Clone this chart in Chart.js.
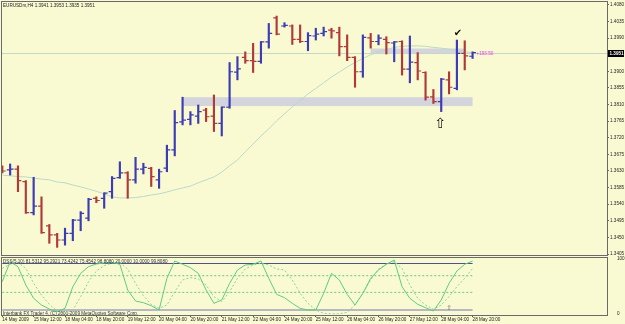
<!DOCTYPE html>
<html><head><meta charset="utf-8"><title>EURUSDm H4</title>
<script src="https://cdn.jsdelivr.net/npm/chart.js@4.4.1/dist/chart.umd.min.js"></script>
<style>
html,body{margin:0;padding:0;background:#FAFAD2;overflow:hidden}
#wrap{position:relative;width:625px;height:324px;background:#FAFAD2}
canvas{position:absolute;left:0}
#c1{top:0}
#c2{top:250px}
</style></head><body>
<div id="wrap"><canvas id="c1" width="625" height="258"></canvas><canvas id="c2" width="625" height="74"></canvas></div>
<script>
// ---------- data ----------
const symbolName = "EURUSDm,H4";
const xLabels = ["14 May 2009","15 May 12:00","18 May 04:00","18 May 20:00","19 May 12:00","20 May 04:00","20 May 20:00","21 May 12:00","22 May 04:00","24 May 20:00","25 May 12:00","26 May 04:00","26 May 20:00","27 May 12:00","28 May 04:00","28 May 20:00"];
const xLabelEvery = 4;
const opens  = [1.3635,1.3633,1.3635,1.3601,1.3517,1.3535,1.3481,1.3457,1.3443,1.3461,1.3497,1.3502,1.3556,1.3556,1.3574,1.3612,1.3625,1.3606,1.3635,1.3637,1.3606,1.3638,1.3687,1.3763,1.3770,1.3779,1.3795,1.3779,1.3759,1.3803,1.3898,1.3938,1.3929,1.3927,1.3980,1.4045,1.4023,1.4023,1.3987,1.3981,1.3996,1.4003,1.4012,1.4005,1.3967,1.3938,1.3899,1.3991,1.3981,1.3987,1.3977,1.3981,1.3906,1.3924,1.3897,1.3831,1.3818,1.3877,1.3854,1.3949,1.3941];
const highs  = [1.3644,1.3649,1.3644,1.3604,1.3613,1.3560,1.3485,1.3461,1.3475,1.3499,1.3520,1.3556,1.3560,1.3571,1.3615,1.3655,1.3628,1.3667,1.3651,1.3640,1.3635,1.3700,1.3794,1.3830,1.3791,1.3809,1.3800,1.3836,1.3804,1.3924,1.3940,1.3953,1.3976,1.3981,1.4030,1.4050,1.4032,1.4026,1.4026,1.4005,1.4017,1.4020,1.4017,1.4020,1.3999,1.3940,1.3999,1.4003,1.3999,1.3994,1.3981,1.3983,1.3996,1.3951,1.3899,1.3851,1.3881,1.3899,1.3985,1.3983,1.3953];
const lows   = [1.3625,1.3619,1.3574,1.3515,1.3511,1.3461,1.3434,1.3423,1.3429,1.3441,1.3468,1.3495,1.3544,1.3529,1.3556,1.3610,1.3556,1.3597,1.3622,1.3588,1.3583,1.3628,1.3671,1.3755,1.3755,1.3759,1.3764,1.3737,1.3725,1.3800,1.3877,1.3922,1.3897,1.3922,1.3963,1.3999,1.4020,1.3973,1.3978,1.3956,1.3985,1.3996,1.3990,1.3942,1.3929,1.3857,1.3884,1.3963,1.3972,1.3947,1.3926,1.3890,1.3869,1.3877,1.3822,1.3813,1.3791,1.3839,1.3850,1.3904,1.3935];
const closes = [1.3630,1.3635,1.3604,1.3517,1.3535,1.3463,1.3457,1.3443,1.3461,1.3497,1.3515,1.3553,1.3550,1.3570,1.3610,1.3625,1.3606,1.3635,1.3640,1.3615,1.3628,1.3687,1.3761,1.3768,1.3782,1.3791,1.3777,1.3759,1.3803,1.3899,1.3907,1.3929,1.3927,1.3980,1.4003,1.4001,1.4025,1.3987,1.3981,1.3997,1.4001,1.4008,1.4010,1.3967,1.3938,1.3899,1.3992,1.3981,1.3990,1.3978,1.3980,1.3906,1.3925,1.3901,1.3830,1.3818,1.3879,1.3857,1.3949,1.3942,1.3951];
const maValues = [1.3619,1.3617,1.3615,1.3614,1.3611,1.3608,1.3606,1.3600,1.3598,1.3592,1.3587,1.3581,1.3575,1.3568,1.3560,1.3557,1.3557,1.3558,1.3561,1.3565,1.3568,1.3573,1.3579,1.3584,1.3589,1.3598,1.3606,1.3614,1.3627,1.3644,1.3660,1.3682,1.3703,1.3725,1.3744,1.3766,1.3785,1.3804,1.3821,1.3839,1.3854,1.3869,1.3885,1.3898,1.3912,1.3924,1.3935,1.3945,1.3953,1.3959,1.3965,1.3968,1.3969,1.3969,1.3968,1.3965,1.3963,1.3960,1.3957,1.3953,1.3951];
const priceTicks = [1.4080,1.4035,1.3990,1.3945,1.3900,1.3855,1.3810,1.3765,1.3720,1.3675,1.3630,1.3585,1.3540,1.3495,1.3450,1.3405];
const zoneLowPrices = [1.3806, 1.3830];
const zoneLowBars = [23, 60];
const zoneHighPrices = [1.3947, 1.3962];
const zoneHighBars = [47, 59];
const profitText = "+193.50";
const dssMain   = [58.3,94.3,85.3,52.2,28.2,16.2,9.0,4.2,10.2,49.2,73.3,85.3,90.1,91.9,93.1,89.5,43.2,23.4,20.4,15.0,7.2,64.3,95.5,89.5,83.5,73.3,43.2,19.2,25.2,55.2,79.3,88.3,89.5,95.5,64.3,35.4,29.4,19.2,10.2,7.2,7.2,37.2,73.3,61.3,35.4,16.2,37.2,64.3,79.3,89.5,97.3,49.2,28.2,17.4,11.4,5.4,25.2,55.2,77.5,89.5,95.5];
const dssSignal = [82.3,89.5,93.1,82.3,55.2,34.2,17.4,5.4,1.2,7.2,31.2,58.3,77.5,87.1,91.9,93.1,81.1,55.2,33.0,17.4,10.2,16.2,40.2,61.3,65.5,63.1,52.2,31.2,22.2,40.2,64.3,81.1,88.3,91.3,88.3,81.1,79.3,61.3,37.2,19.2,7.2,1.2,0.5,0.5,3.0,16.2,37.2,61.3,81.1,90.1,94.3,82.3,52.2,28.2,16.2,8.4,16.2,31.2,49.2,64.3,82.3];
const dssLevels = [91, 69, 39, 7];
const dssTicks = [100, 0];
const dssTitle = "DSS(5,10) 81.5312 95.2921 73.4242 75.4542 98.8080 20.0000 10.0000 99.8080";
const copyright = "Interbank FX Trader 4, (C) 2001-2009 MetaQuotes Software Corp.";

// ---------- style ----------
const FONT = '"Liberation Sans", Arial, sans-serif';
const FS = 4.6;
const UP = '#3c3cb4', DOWN = '#b03a3a';
const FRAME = '#6a6a6a';
const X_MIN = -0.038, X_MAX = 77.15;
const Y_MIN = 1.34023, Y_MAX = 1.40881;
const last = closes.length - 1;

function text(ctx, s, x, y, color, size, align, family, weight) {
  ctx.save();
  ctx.font = (weight || 'normal') + ' ' + size + 'px ' + (family || FONT);
  ctx.fillStyle = color; ctx.textAlign = align || 'left'; ctx.textBaseline = 'middle';
  ctx.fillText(s, x, y);
  ctx.restore();
}
function frame(chart) {
  const {ctx, chartArea: a} = chart;
  ctx.save(); ctx.strokeStyle = FRAME; ctx.lineWidth = 1;
  ctx.strokeRect(a.left - 0.5, a.top - 0.5, a.right - a.left + 1, a.bottom - a.top + 1);
  ctx.restore();
}

const mainOverlay = {
  id: 'mainOverlay',
  beforeDatasetsDraw(chart) {
    const {ctx, chartArea: a, scales: {x, y}} = chart;
    ctx.save();
    ctx.beginPath(); ctx.rect(a.left, a.top, a.right - a.left, a.bottom - a.top); ctx.clip();
    ctx.fillStyle = '#d4d4dc';
    [[zoneLowBars, zoneLowPrices], [zoneHighBars, zoneHighPrices]].forEach(([b, p]) => {
      const x0 = x.getPixelForValue(b[0]), x1 = x.getPixelForValue(b[1]);
      const y0 = y.getPixelForValue(p[1]), y1 = y.getPixelForValue(p[0]);
      ctx.fillRect(x0, y0, x1 - x0, y1 - y0);
    });
    const yb = Math.round(y.getPixelForValue(closes[last])) + 0.5;
    ctx.strokeStyle = '#c6d8c4'; ctx.lineWidth = 1;
    ctx.beginPath(); ctx.moveTo(a.left, yb); ctx.lineTo(a.right, yb); ctx.stroke();
    ctx.restore();
  },
  afterDatasetsDraw(chart) {
    const {ctx, chartArea: a, scales: {x, y}} = chart;
    ctx.save();
    ctx.beginPath(); ctx.rect(a.left, a.top, a.right - a.left, a.bottom - a.top); ctx.clip();
    ctx.lineWidth = 1.2;
    for (let i = 0; i < opens.length; i++) {
      const px = x.getPixelForValue(i);
      const yo = y.getPixelForValue(opens[i]), yc = y.getPixelForValue(closes[i]);
      ctx.strokeStyle = closes[i] >= opens[i] ? UP : DOWN;
      ctx.beginPath();
      ctx.moveTo(px - 3.4, yo); ctx.lineTo(px, yo);
      ctx.moveTo(px, yc); ctx.lineTo(px + 3.4, yc);
      ctx.stroke();
    }
    ctx.restore();
  },
  afterDraw(chart) {
    const {ctx, chartArea: a, scales: {x, y}} = chart;
    frame(chart);
    const title = symbolName + ' ' + [opens[last], highs[last], lows[last], closes[last]].map(v => v.toFixed(4)).join(' ');
    text(ctx, title, a.left + 1, a.top + 3.5, '#222', FS);
    const yc = y.getPixelForValue(closes[last]);
    ctx.save(); ctx.fillStyle = '#000'; ctx.fillRect(a.right + 1, Math.round(yc) - 3, 16, 7); ctx.restore();
    text(ctx, closes[last].toFixed(4), a.right + 2.5, Math.round(yc) + 0.5, '#fff', FS, 'left', FONT, 'bold');
    text(ctx, profitText, x.getPixelForValue(last) + 4, yc + 1, '#ee36ee', FS);
    text(ctx, '\u2714', x.getPixelForValue(58) + 1, y.getPixelForValue(highs[58]) - 7, '#111', 10, 'center', '"DejaVu Sans"');
    text(ctx, '\u21E7', x.getPixelForValue(56) - 1, y.getPixelForValue(lows[56]) + 13, '#111', 14, 'center', '"DejaVu Sans"');
  }
};

const subOverlay = {
  id: 'subOverlay',
  afterDraw(chart) {
    const {ctx, chartArea: a, scales: {x, y}} = chart;
    frame(chart);
    text(ctx, dssTitle, a.left + 1, a.top + 3.5, '#333', FS);
    text(ctx, copyright, a.left + 1, a.bottom - 1.5, '#333', FS);
    text(ctx, '\u21E7', x.getPixelForValue(57), y.getPixelForValue(dssLevels[3]) - 2, '#777', 7, 'center', '"DejaVu Sans"');
  }
};

const idx = arr => arr.map((v, i) => ({x: i, y: v}));

new Chart(document.getElementById('c1'), {
  type: 'bar',
  data: {
    datasets: [
      {
        type: 'bar',
        data: highs.map((h, i) => ({x: i, y: [lows[i], h]})),
        backgroundColor: closes.map((c, i) => c >= opens[i] ? UP : DOWN),
        borderWidth: 0, barThickness: 1.5, grouped: false
      },
      {
        type: 'line', data: idx(maValues),
        borderColor: '#bcd8c8', borderWidth: 1, pointRadius: 0, tension: 0, fill: false
      }
    ]
  },
  options: {
    responsive: false, animation: false, devicePixelRatio: 1, events: [],
    layout: {padding: {left: 2, top: 2, right: 0, bottom: 3}},
    plugins: {legend: {display: false}, tooltip: {enabled: false}},
    scales: {
      x: {type: 'linear', display: false, min: X_MIN, max: X_MAX, offset: false},
      y: {
        type: 'linear', position: 'right', min: Y_MIN, max: Y_MAX,
        afterBuildTicks: s => { s.ticks = priceTicks.map(v => ({value: v})); },
        afterFit: s => { s.width = 18; s.paddingTop = 0; s.paddingBottom = 0; },
        grid: {drawOnChartArea: false, drawTicks: true, tickLength: 2, color: '#666'},
        border: {display: false},
        ticks: {padding: 1, font: {size: FS, family: FONT}, color: '#222', callback: v => Number(v).toFixed(4)}
      }
    }
  },
  plugins: [mainOverlay]
});

const levelStyles = [
  {borderColor: '#4d4d94', borderWidth: 1, borderDash: []},
  {borderColor: '#6cc680', borderWidth: 1, borderDash: [2, 2]},
  {borderColor: '#6cc680', borderWidth: 1, borderDash: [2, 2]},
  {borderColor: '#b8b8c4', borderWidth: 2, borderDash: []}
];

new Chart(document.getElementById('c2'), {
  type: 'line',
  data: {
    datasets: [
      {data: idx(dssMain), borderColor: '#5fcb80', borderWidth: 1, pointRadius: 0, tension: 0},
      {data: idx(dssSignal), borderColor: '#86d49a', borderWidth: 1, borderDash: [2, 2], pointRadius: 0, tension: 0}
    ].concat(dssLevels.map((lv, k) => Object.assign({
      data: [{x: 0, y: lv}, {x: last, y: lv}], pointRadius: 0, tension: 0
    }, levelStyles[k])))
  },
  options: {
    responsive: false, animation: false, devicePixelRatio: 1, events: [],
    layout: {padding: {left: 2, top: 8, right: 0, bottom: 0}},
    plugins: {legend: {display: false}, tooltip: {enabled: false}},
    scales: {
      x: {
        type: 'linear', min: X_MIN, max: X_MAX, offset: false,
        afterBuildTicks: s => { s.ticks = xLabels.map((l, k) => ({value: k * xLabelEvery})); },
        afterFit: s => { s.height = 9; s.paddingLeft = 0; s.paddingRight = 0; },
        grid: {drawOnChartArea: false, drawTicks: true, tickLength: 2, color: '#555'},
        border: {display: false},
        ticks: {align: 'start', padding: 0, autoSkip: false, maxRotation: 0, minRotation: 0,
                font: {size: FS, family: FONT}, color: '#222',
                callback: v => xLabels[Math.round(v / xLabelEvery)]}
      },
      y: {
        type: 'linear', position: 'right', min: -1.8, max: 100.9,
        afterBuildTicks: s => { s.ticks = dssTicks.map(v => ({value: v})); },
        afterFit: s => { s.width = 18; s.paddingTop = 0; s.paddingBottom = 0; },
        grid: {display: false},
        border: {display: false},
        ticks: {padding: 2, font: {size: FS, family: FONT}, color: '#222', callback: v => String(v)}
      }
    }
  },
  plugins: [subOverlay]
});
</script>
</body></html>
